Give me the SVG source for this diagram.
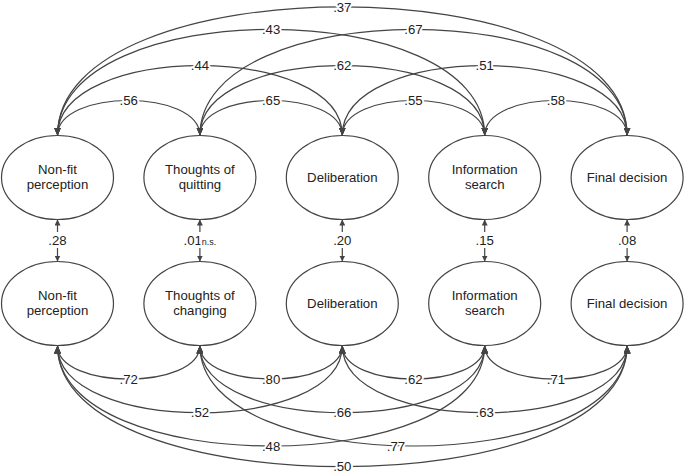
<svg xmlns="http://www.w3.org/2000/svg" width="685" height="475" viewBox="0 0 685 475">
<style>
.node ellipse{fill:#fff;stroke:#444;stroke-width:1.2}
.node text{font-family:"Liberation Sans",Arial,sans-serif;font-size:13.2px;fill:#222;text-anchor:middle}
.arc{fill:none;stroke:#444;stroke-width:1.2;marker-start:url(#ah);marker-end:url(#ah)}
.vt{fill:none;stroke:#444;stroke-width:1.2;marker-end:url(#ahs)}
.lbl{font-family:"Liberation Sans",Arial,sans-serif;font-size:13.2px;fill:#222;text-anchor:middle;stroke:#fff;stroke-width:4;stroke-linejoin:round;paint-order:stroke}
.ns{font-size:9px}
</style>
<defs>
<marker id="ah" viewBox="0 0 10 10" refX="10" refY="5" markerUnits="userSpaceOnUse" markerWidth="8" markerHeight="7" preserveAspectRatio="none" orient="auto-start-reverse"><path d="M0,0 L10,5 L0,10 z" fill="#444"/></marker>
<marker id="ahs" viewBox="0 0 10 10" refX="10" refY="5" markerUnits="userSpaceOnUse" markerWidth="6" markerHeight="6" preserveAspectRatio="none" orient="auto"><path d="M0,0 L10,5 L0,10 z" fill="#444"/></marker>
</defs>

<g id="n1" class="node"><ellipse cx="57.5" cy="177.5" rx="56" ry="42"/><text x="57.5" y="173.5">Non-fit</text><text x="57.5" y="189">perception</text></g>
<g id="n2" class="node"><ellipse cx="199.9" cy="177.5" rx="56" ry="42"/><text x="199.9" y="173.5">Thoughts of</text><text x="199.9" y="189">quitting</text></g>
<g id="n3" class="node"><ellipse cx="342.3" cy="177.5" rx="56" ry="42"/><text x="342.3" y="181.8">Deliberation</text></g>
<g id="n4" class="node"><ellipse cx="484.7" cy="177.5" rx="56" ry="42"/><text x="484.7" y="173.5">Information</text><text x="484.7" y="189">search</text></g>
<g id="n5" class="node"><ellipse cx="627.1" cy="177.5" rx="56" ry="42"/><text x="627.1" y="181.8">Final decision</text></g>

<g id="m1" class="node"><ellipse cx="57.5" cy="303.5" rx="56" ry="42"/><text x="57.5" y="299.5">Non-fit</text><text x="57.5" y="315">perception</text></g>
<g id="m2" class="node"><ellipse cx="199.9" cy="303.5" rx="56" ry="42"/><text x="199.9" y="299.5">Thoughts of</text><text x="199.9" y="315">changing</text></g>
<g id="m3" class="node"><ellipse cx="342.3" cy="303.5" rx="56" ry="42"/><text x="342.3" y="307.8">Deliberation</text></g>
<g id="m4" class="node"><ellipse cx="484.7" cy="303.5" rx="56" ry="42"/><text x="484.7" y="299.5">Information</text><text x="484.7" y="315">search</text></g>
<g id="m5" class="node"><ellipse cx="627.1" cy="303.5" rx="56" ry="42"/><text x="627.1" y="307.8">Final decision</text></g>

<g id="connectors">
<path class="arc" d="M57.5,135.5 C57.5,88.8 199.9,88.8 199.9,135.5"/>
<path class="arc" d="M199.9,135.5 C199.9,88.8 342.3,88.8 342.3,135.5"/>
<path class="arc" d="M342.3,135.5 C342.3,88.8 484.7,88.8 484.7,135.5"/>
<path class="arc" d="M484.7,135.5 C484.7,88.8 627.1,88.8 627.1,135.5"/>
<path class="arc" d="M57.5,135.5 C57.5,42.4 342.3,42.4 342.3,135.5"/>
<path class="arc" d="M199.9,135.5 C199.9,42.4 484.7,42.4 484.7,135.5"/>
<path class="arc" d="M342.3,135.5 C342.3,42.4 627.1,42.4 627.1,135.5"/>
<path class="arc" d="M57.5,135.5 C57.5,-6.1 484.7,-6.1 484.7,135.5"/>
<path class="arc" d="M199.9,135.5 C199.9,-6.1 627.1,-6.1 627.1,135.5"/>
<path class="arc" d="M57.5,135.5 C57.5,-36 627.1,-36 627.1,135.5"/>

<path class="arc" d="M57.5,345.5 C57.5,390.2 199.9,390.2 199.9,345.5"/>
<path class="arc" d="M199.9,345.5 C199.9,390.2 342.3,390.2 342.3,345.5"/>
<path class="arc" d="M342.3,345.5 C342.3,390.2 484.7,390.2 484.7,345.5"/>
<path class="arc" d="M484.7,345.5 C484.7,390.2 627.1,390.2 627.1,345.5"/>
<path class="arc" d="M57.5,345.5 C57.5,435.1 342.3,435.1 342.3,345.5"/>
<path class="arc" d="M199.9,345.5 C199.9,435.1 484.7,435.1 484.7,345.5"/>
<path class="arc" d="M342.3,345.5 C342.3,435.1 627.1,435.1 627.1,345.5"/>
<path class="arc" d="M57.5,345.5 C57.5,479.5 484.7,479.5 484.7,345.5"/>
<path class="arc" d="M199.9,345.5 C199.9,479.5 627.1,479.5 627.1,345.5"/>
<path class="arc" d="M57.5,345.5 C57.5,507 627.1,507 627.1,345.5"/>

<path class="vt" d="M57.5,232 V219.5"/><path class="vt" d="M57.5,248 V261.5"/>
<path class="vt" d="M199.9,232 V219.5"/><path class="vt" d="M199.9,248 V261.5"/>
<path class="vt" d="M342.3,232 V219.5"/><path class="vt" d="M342.3,248 V261.5"/>
<path class="vt" d="M484.7,232 V219.5"/><path class="vt" d="M484.7,248 V261.5"/>
<path class="vt" d="M627.1,232 V219.5"/><path class="vt" d="M627.1,248 V261.5"/>
</g>

<g id="labels">
<text class="lbl" x="128.7" y="105.2">.56</text>
<text class="lbl" x="271.1" y="105.2">.65</text>
<text class="lbl" x="413.5" y="105.2">.55</text>
<text class="lbl" x="555.9" y="105.2">.58</text>
<text class="lbl" x="199.9" y="70.4">.44</text>
<text class="lbl" x="342.3" y="70.4">.62</text>
<text class="lbl" x="484.7" y="70.4">.51</text>
<text class="lbl" x="271.1" y="34">.43</text>
<text class="lbl" x="413.5" y="34">.67</text>
<text class="lbl" x="342.3" y="11.6">.37</text>

<text class="lbl" x="57.5" y="244.5">.28</text>
<text class="lbl" x="199.9" y="244.5">.01<tspan class="ns">n.s.</tspan></text>
<text class="lbl" x="342.3" y="244.5">.20</text>
<text class="lbl" x="484.7" y="244.5">.15</text>
<text class="lbl" x="627.1" y="244.5">.08</text>

<text class="lbl" x="128.7" y="383.7">.72</text>
<text class="lbl" x="271.1" y="383.7">.80</text>
<text class="lbl" x="413.5" y="383.7">.62</text>
<text class="lbl" x="555.9" y="383.7">.71</text>
<text class="lbl" x="199.9" y="417.4">.52</text>
<text class="lbl" x="342.3" y="417.4">.66</text>
<text class="lbl" x="484.7" y="417.4">.63</text>
<text class="lbl" x="271.1" y="450.7">.48</text>
<text class="lbl" x="396" y="450.7">.77</text>
<text class="lbl" x="342.3" y="471">.50</text>
</g>
</svg>
